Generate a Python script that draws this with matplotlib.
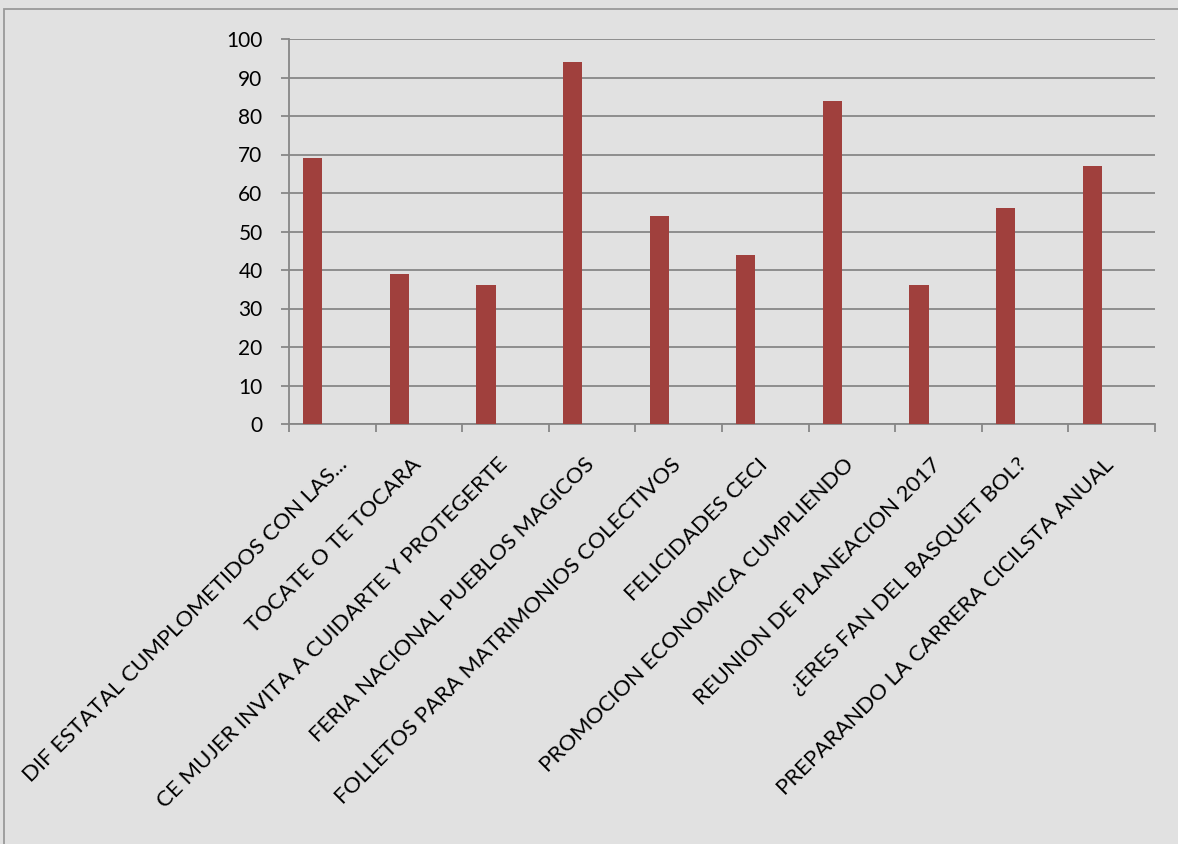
import matplotlib

matplotlib.use("Agg")
import matplotlib.pyplot as plt
from matplotlib.patches import Rectangle
from matplotlib.transforms import ScaledTranslation

CATEGORIES = [
    "DIF ESTATAL CUMPLOMETIDOS CON LAS...",
    "TOCATE O TE TOCARA",
    "CE MUJER INVITA A CUIDARTE Y PROTEGERTE",
    "FERIA NACIONAL PUEBLOS MAGICOS",
    "FOLLETOS PARA MATRIMONIOS COLECTIVOS",
    "FELICIDADES CECI",
    "PROMOCION ECONOMICA CUMPLIENDO",
    "REUNION DE PLANEACION 2017",
    "¿ERES FAN DEL BASQUET BOL?",
    "PREPARANDO LA CARRERA CICILSTA ANUAL",
]
VALUES = [69, 39, 36, 94, 54, 44, 84, 36, 56, 67]
Y_TICKS = list(range(0, 101, 10))

BAR_COLOR = "#A0403D"
GRID_COLOR = "#878787"
BG_COLOR = "#e1e1e1"

plt.rcParams["font.family"] = ["Lato", "DejaVu Sans"]

fig = plt.figure(figsize=(11.78, 8.44), dpi=100, facecolor=BG_COLOR)
ax = fig.add_axes([289 / 1178, 1 - 424 / 844, (1155 - 289) / 1178, (424 - 39) / 844])
ax.set_facecolor("none")

x = list(range(len(CATEGORIES)))
# first series of a clustered pair; the second slot is empty
bar_x = [i - 0.225 for i in x]
ax.bar(bar_x, VALUES, width=0.22, color=BAR_COLOR, zorder=3)

ax.set_xlim(-0.5, len(CATEGORIES) - 0.5)
ax.set_ylim(0, 100)
ax.set_yticks(Y_TICKS)
ax.yaxis.grid(True, color=GRID_COLOR, lw=1.3, zorder=1)
ax.set_axisbelow(True)

for side in ("top", "right"):
    ax.spines[side].set_visible(False)
for side in ("left", "bottom"):
    ax.spines[side].set_color(GRID_COLOR)
    ax.spines[side].set_linewidth(1.3)

ax.tick_params(axis="y", length=6, width=1.3, color=GRID_COLOR, pad=13, labelsize=15)
ax.set_xticks(x)
ax.set_xticks([i - 0.5 for i in range(len(CATEGORIES) + 1)], minor=True)
ax.tick_params(axis="x", which="minor", length=6, width=1.3, color=GRID_COLOR)
ax.tick_params(axis="x", which="major", length=0, pad=27)
ax.set_xticklabels(CATEGORIES, rotation=45, ha="right", va="center",
                   rotation_mode="anchor", fontsize=16)
for i, label in enumerate(ax.get_xticklabels()):
    # the first label sits a little further right in the original
    dx = 12 if i == 0 else -1
    offset = ScaledTranslation(dx / 100, 0, fig.dpi_scale_trans)
    label.set_transform(label.get_transform() + offset)

# chart border
fig.patches.append(Rectangle((4 / 1178, -0.05), 1.2, 1 - 9 / 844 + 0.05,
                             transform=fig.transFigure, fill=False,
                             edgecolor="#9a9a9a", lw=1.3))

fig.savefig("out.png", dpi=100, facecolor=BG_COLOR)
